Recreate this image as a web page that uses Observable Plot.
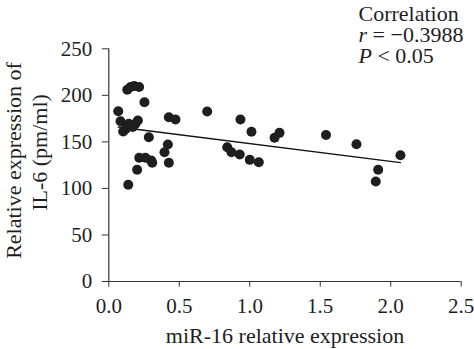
<!DOCTYPE html>
<html><head><meta charset="utf-8">
<script src="https://cdn.jsdelivr.net/npm/d3@7"></script>
<script src="https://cdn.jsdelivr.net/npm/@observablehq/plot@0.6"></script>
<style>
html,body{margin:0;padding:0;background:#fff;}
</style>
</head><body><div id="chart"></div>
<script>
const mirX = [0.131,0.155,0.18,0.215,0.253,0.067,0.083,0.102,0.142,0.189,0.206,0.12,0.17,0.698,0.426,0.473,0.284,0.419,0.395,0.216,0.26,0.301,0.308,0.426,0.201,0.138,0.934,1.012,1.176,1.211,1.541,0.84,0.87,0.929,1.0,1.064,1.757,2.069,1.911,1.894];
const il6Y = [206,209,210,209,192.6,182.9,172.2,161.1,169.4,169.4,172.9,164,166,182.6,176.5,174,155,147.2,138.9,132.9,132.9,130,127.5,127.5,120,104,174,160.8,154.4,159.7,157.4,144.3,138.9,136.4,130.7,128.1,147.5,135.7,120,107.4];
const fitX = [0.067, 2.069];
const fitY = [166.0, 127.8];
const xTicks = [0, 0.5, 1, 1.5, 2, 2.5];
const yTicks = [0, 50, 100, 150, 200, 250];
const xLabel = "miR-16 relative expression";
const yLabelLines = ["Relative expression of", "IL-6 (pm/ml)"];
const statLines = ["Correlation", "r = \u22120.3988", "P < 0.05"];

const points = mirX.map((x, i) => ({x, y: il6Y[i]}));
const fit = fitX.map((x, i) => ({x, y: fitY[i]}));
const ink = "#1e1e1e";
const font = "'Liberation Serif', 'Times New Roman', serif";

const chart = Plot.plot({
  width: 474,
  height: 349,
  marginLeft: 108.3,
  marginRight: 13.3,
  marginTop: 48.3,
  marginBottom: 68,
  style: {fontFamily: font, fontSize: "21px", color: ink, background: "#fff"},
  x: {domain: [0, 2.5]},
  y: {domain: [0, 250]},
  marks: [
    Plot.axisX({ticks: xTicks, tickFormat: d => d.toFixed(1), tickSize: 5.7, tickPadding: 11, label: null, fontSize: 21, stroke: "#333", fill: ink}),
    Plot.axisY({ticks: yTicks, tickSize: 6.5, tickPadding: 10, label: null, fontSize: 21, stroke: "#333", fill: ink}),
    Plot.ruleX([0], {stroke: "#333", strokeWidth: 1.2}),
    Plot.ruleY([0], {stroke: "#333", strokeWidth: 1.2}),
    Plot.line(fit, {x: "x", y: "y", stroke: "#111", strokeWidth: 1.3}),
    Plot.dot(points, {x: "x", y: "y", r: 5, fill: ink, stroke: null}),
    Plot.text([xLabel], {text: d => d, frameAnchor: "bottom", textAnchor: "middle", lineAnchor: "bottom", dy: 61, fontSize: 22, fill: ink}),
    Plot.text([yLabelLines[0]], {text: d => d, frameAnchor: "left", textAnchor: "middle", lineAnchor: "bottom", rotate: -90, dx: -87.6, dy: -4.65, fontSize: 22, fill: ink}),
    Plot.text([yLabelLines[1]], {text: d => d, frameAnchor: "left", textAnchor: "middle", lineAnchor: "bottom", rotate: -90, dx: -61.6, dy: -12.65, fontSize: 22, fill: ink}),
    Plot.text([statLines[0]], {text: d => d, frameAnchor: "top-right", textAnchor: "start", lineAnchor: "bottom", dx: -102.7, dy: -28.3, fontSize: 22, fill: ink}),
    Plot.text([statLines[1]], {text: d => d, frameAnchor: "top-right", textAnchor: "start", lineAnchor: "bottom", dx: -102.7, dy: -7.3, fontSize: 22, fill: ink}),
    Plot.text([statLines[2]], {text: d => d, frameAnchor: "top-right", textAnchor: "start", lineAnchor: "bottom", dx: -102.7, dy: 13.7, fontSize: 22, fill: ink})
  ]
});
document.getElementById("chart").appendChild(chart);

// italicise the statistic symbols r and P
chart.querySelectorAll("text").forEach(t => {
  const s = t.textContent;
  const idx = statLines.indexOf(s);
  if (idx > 0 && t.children.length === 0) {
    t.textContent = "";
    const it = document.createElementNS("http://www.w3.org/2000/svg", "tspan");
    it.setAttribute("font-style", "italic");
    it.textContent = s[0];
    t.appendChild(it);
    t.appendChild(document.createTextNode(s.slice(1)));
  }
});
</script>
</body></html>
